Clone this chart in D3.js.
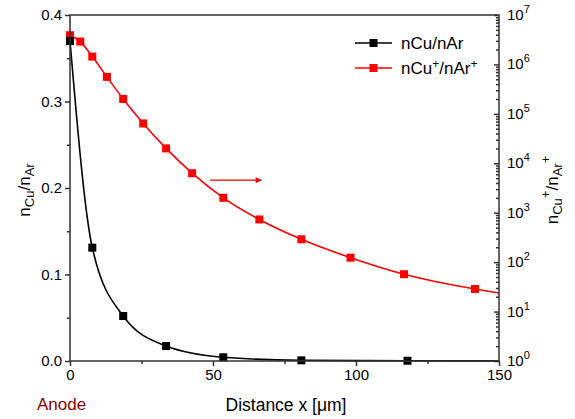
<!DOCTYPE html>
<html>
<head>
<meta charset="utf-8">
<script src="https://cdn.jsdelivr.net/npm/d3@7"></script>
<style>
  body { margin: 0; background: #fff; }
  svg { font-family: "Liberation Sans", Arial, sans-serif; }
</style>
</head>
<body>
<svg id="chart"></svg>
<script>
// Данные: нейтральные атомы (левая ось)
const neutralX = [0, 7.8, 18.6, 33.6, 53.6, 80.9, 118];
const neutralY = [0.37, 0.131, 0.052, 0.0173, 0.0043, 0.0008, 0.0003];
const neutralTail = [150, 0.0001];

// Данные: ионы (правая ось, логарифм)
const ionX = [0, 3.6, 7.8, 12.9, 18.6, 25.6, 33.6, 42.7, 53.6, 66.2, 80.9, 98.1, 116.8, 141.6];
const ionY = [3.9e6, 2.9e6, 1.44e6, 5.6e5, 2.0e5, 6.4e4, 2.0e4, 6.3e3, 2.0e3, 7.3e2, 2.9e2, 1.23e2, 57, 28.6];
const ionTail = [150, 23.8];

const xTicks = [0, 50, 100, 150];
const leftTicks = [0, 0.1, 0.2, 0.3, 0.4];
const rightExps = [0, 1, 2, 3, 4, 5, 6, 7];
const legendNames = ["nCu/nAr", "nCu+/nAr+"];

const width = 575, height = 419;
const mLeft = 70, mRight = 499, mTop = 15, mBottom = 361;

const svg = d3.select("#chart").attr("width", width).attr("height", height);

const x = d3.scaleLinear().domain([0, 150]).range([mLeft, mRight]);
const yL = d3.scaleLinear().domain([0, 0.4]).range([mBottom, mTop]);
const yR = d3.scaleLog().domain([1, 1e7]).range([mBottom, mTop]);

// Линии
const neutralPts = neutralX.map((d, i) => [d, neutralY[i]]).concat([neutralTail]);
const ionPts = ionX.map((d, i) => [d, ionY[i]]).concat([ionTail]);

svg.append("path")
    .datum(neutralPts)
    .attr("fill", "none").attr("stroke", "#000").attr("stroke-width", 1.6)
    .attr("d", d3.line().x(d => x(d[0])).y(d => yL(d[1])).curve(d3.curveMonotoneX));

svg.append("path")
    .datum(ionPts)
    .attr("fill", "none").attr("stroke", "#f00").attr("stroke-width", 1.6)
    .attr("d", d3.line().x(d => x(d[0])).y(d => yR(d[1])).curve(d3.curveMonotoneX));

// Маркеры
const ms = 8;
svg.append("g").selectAll("rect").data(ionX).join("rect")
    .attr("x", d => x(d) - ms / 2)
    .attr("y", (d, i) => yR(ionY[i]) - ms / 2)
    .attr("width", ms).attr("height", ms).attr("fill", "#f00");

svg.append("g").selectAll("rect").data(neutralX).join("rect")
    .attr("x", d => x(d) - ms / 2)
    .attr("y", (d, i) => yL(neutralY[i]) - ms / 2)
    .attr("width", ms).attr("height", ms).attr("fill", "#000");

// Оси
const axisColor = "#333";
function styleAxis(g) {
    g.select(".domain").remove();
    g.selectAll("line").attr("stroke", axisColor).attr("stroke-width", 1.5);
    g.selectAll("text").attr("fill", "#000").attr("font-size", 15);
}

// нижняя ось
svg.append("g").attr("transform", `translate(0,${mBottom})`)
    .call(d3.axisBottom(x).tickValues(xTicks).tickSize(5).tickPadding(3).tickFormat(d3.format("d")))
    .call(styleAxis);
svg.append("g").attr("transform", `translate(0,${mBottom})`)
    .call(d3.axisBottom(x).tickValues([25, 75, 125]).tickSize(3).tickFormat(""))
    .call(styleAxis);

// левая ось
svg.append("g").attr("transform", `translate(${mLeft},0)`)
    .call(d3.axisLeft(yL).tickValues(leftTicks).tickSize(5).tickPadding(3).tickFormat(d3.format(".1f")))
    .call(styleAxis);
svg.append("g").attr("transform", `translate(${mLeft},0)`)
    .call(d3.axisLeft(yL).tickValues([0.05, 0.15, 0.25, 0.35]).tickSize(3).tickFormat(""))
    .call(styleAxis);

// правая ось (лог), засечки внутрь
const minor = [];
rightExps.slice(0, -1).forEach(e => { for (let k = 2; k <= 9; k++) minor.push(k * Math.pow(10, e)); });
svg.append("g").attr("transform", `translate(${mRight},0)`)
    .call(d3.axisLeft(yR).tickValues(minor).tickSize(3).tickFormat(""))
    .call(styleAxis);
svg.append("g").attr("transform", `translate(${mRight},0)`)
    .call(d3.axisLeft(yR).tickValues(rightExps.map(e => Math.pow(10, e))).tickSize(5).tickFormat(""))
    .call(styleAxis);

const rl = svg.append("g").selectAll("text").data(rightExps).join("text")
    .attr("x", mRight + 8).attr("y", d => yR(Math.pow(10, d)) + 5)
    .attr("font-size", 15);
rl.append("tspan").text("10");
rl.append("tspan").attr("dy", -7).attr("font-size", 11).text(d => d);

// рамка
svg.append("rect").attr("x", mLeft).attr("y", mTop)
    .attr("width", mRight - mLeft).attr("height", mBottom - mTop)
    .attr("fill", "none").attr("stroke", axisColor).attr("stroke-width", 1.5);

// подписи осей
svg.append("text").attr("x", 286).attr("y", 411).attr("text-anchor", "middle")
    .attr("font-size", 17.5).text("Distance x [μm]");
svg.append("text").attr("x", 37).attr("y", 410).attr("font-size", 17)
    .attr("fill", "#8b0000").text("Anode");

const ll = svg.append("text").attr("transform", "translate(30,190) rotate(-90)")
    .attr("text-anchor", "middle").attr("font-size", 17);
ll.append("tspan").text("n");
ll.append("tspan").attr("dy", 4).attr("font-size", 13).text("Cu");
ll.append("tspan").attr("dy", -4).text("/n");
ll.append("tspan").attr("dy", 4).attr("font-size", 13).text("Ar");

const rlab = svg.append("text").attr("transform", "translate(558,190) rotate(-90)")
    .attr("text-anchor", "middle").attr("font-size", 17);
rlab.append("tspan").text("n");
rlab.append("tspan").attr("dy", 4).attr("font-size", 13).text("Cu");
rlab.append("tspan").attr("dy", -12).attr("font-size", 13).text("+");
rlab.append("tspan").attr("dy", 8).text("/n");
rlab.append("tspan").attr("dy", 4).attr("font-size", 13).text("Ar");
rlab.append("tspan").attr("dy", -12).attr("font-size", 13).text("+");

// стрелка
svg.append("defs").append("marker").attr("id", "ah")
    .attr("viewBox", "0 0 10 10").attr("refX", 10).attr("refY", 5)
    .attr("markerWidth", 10).attr("markerHeight", 6).attr("markerUnits", "userSpaceOnUse")
    .attr("orient", "auto")
    .append("path").attr("d", "M0,0L10,5L0,10Z").attr("fill", "#f00");
const arrowFrom = [49, 0.209], arrowTo = [67, 0.209];
svg.append("line")
    .attr("x1", x(arrowFrom[0])).attr("y1", yL(arrowFrom[1]))
    .attr("x2", x(arrowTo[0])).attr("y2", yL(arrowTo[1]))
    .attr("stroke", "#f00").attr("stroke-width", 1.3).attr("marker-end", "url(#ah)");

// легенда
const colors = ["#000", "#f00"];
const lg = svg.append("g").selectAll("g").data(legendNames).join("g")
    .attr("transform", (d, i) => `translate(355,${43 + i * 25})`);
lg.append("line").attr("x1", 0).attr("x2", 37)
    .attr("stroke", (d, i) => colors[i]).attr("stroke-width", 1.6);
lg.append("rect").attr("x", 18.5 - ms / 2).attr("y", -ms / 2)
    .attr("width", ms).attr("height", ms).attr("fill", (d, i) => colors[i]);
const lt = lg.append("text").attr("x", 46).attr("y", 6).attr("font-size", 17);
lt.filter((d, i) => i === 0).text(d => d);
const l2 = lt.filter((d, i) => i === 1);
l2.append("tspan").text("nCu");
l2.append("tspan").attr("dy", -6).attr("font-size", 12).text("+");
l2.append("tspan").attr("dy", 6).text("/nAr");
l2.append("tspan").attr("dy", -6).attr("font-size", 12).text("+");
</script>
</body>
</html>
